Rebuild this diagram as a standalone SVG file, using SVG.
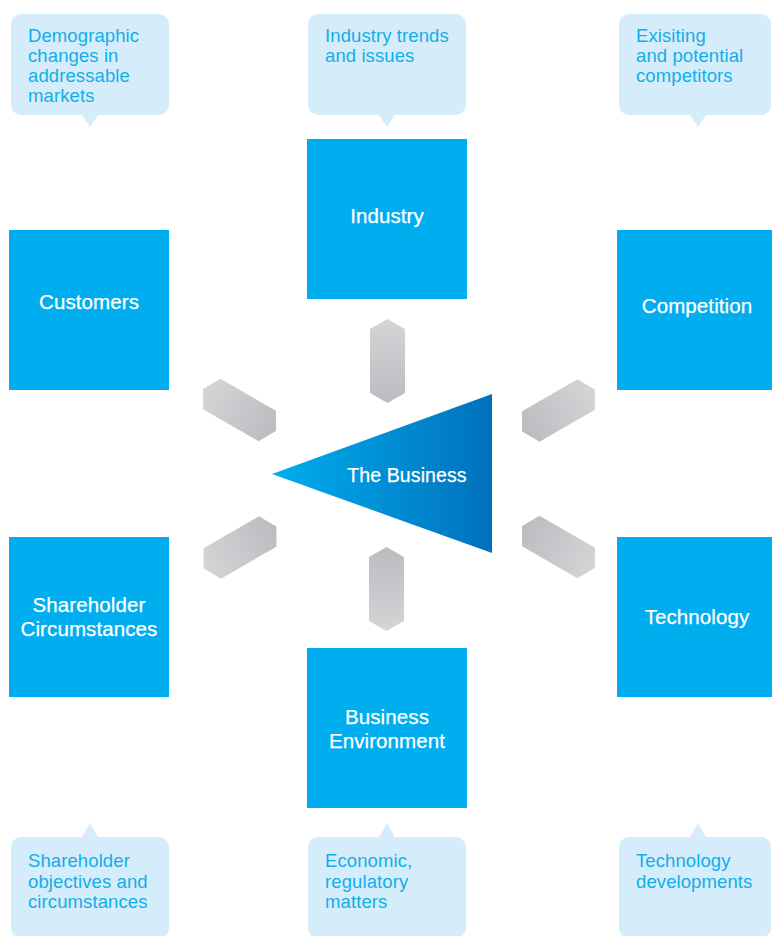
<svg xmlns="http://www.w3.org/2000/svg" width="772" height="936" viewBox="0 0 772 936">
  <style>
    .box { fill: #00AEEF; }
    .boxText { font-family: "Liberation Sans", Arial, sans-serif; font-size: 20.5px; letter-spacing: 0.1px; fill: #FFFFFF; stroke: #FFFFFF; stroke-width: 0.25; text-anchor: middle; }
    .callout { fill: #D5EDFA; }
    .calloutText { font-family: "Liberation Sans", Arial, sans-serif; font-size: 18.5px; letter-spacing: 0.1px; fill: #12ADEA; }
    .link { fill: url(#linkGrad); }
  </style>
  <defs>
    <linearGradient id="bizGrad" x1="0" y1="0" x2="1" y2="0">
      <stop offset="0" stop-color="#00AEEF"/>
      <stop offset="1" stop-color="#0071BC"/>
    </linearGradient>
    <!-- lighter at the outer end, darker toward the centre -->
    <linearGradient id="linkGrad" gradientUnits="userSpaceOnUse" x1="0" y1="-42" x2="0" y2="42">
      <stop offset="0" stop-color="#D4D5D7"/>
      <stop offset="1" stop-color="#BBBCBF"/>
    </linearGradient>
    <polygon id="hex" points="0,-42 17.5,-32 17.5,32 0,42 -17.5,32 -17.5,-32"/>
  </defs>

  <!-- callouts -->
  <g id="callout-customers">
    <path class="callout" d="M21,14 H159 A10,10 0 0 1 169,24 V105 A10,10 0 0 1 159,115 H98 L90,127 L82,115 H21 A10,10 0 0 1 11,105 V24 A10,10 0 0 1 21,14 Z"/>
    <text class="calloutText" x="28" y="42">Demographic</text>
    <text class="calloutText" x="28" y="62">changes in</text>
    <text class="calloutText" x="28" y="82">addressable</text>
    <text class="calloutText" x="28" y="102">markets</text>
  </g>
  <g id="callout-industry">
    <path class="callout" d="M318,14 H456 A10,10 0 0 1 466,24 V105 A10,10 0 0 1 456,115 H395 L387,127 L379,115 H318 A10,10 0 0 1 308,105 V24 A10,10 0 0 1 318,14 Z"/>
    <text class="calloutText" x="325" y="42">Industry trends</text>
    <text class="calloutText" x="325" y="62">and issues</text>
  </g>
  <g id="callout-competition">
    <path class="callout" d="M629,14 H761 A10,10 0 0 1 771,24 V105 A10,10 0 0 1 761,115 H706 L698,127 L690,115 H629 A10,10 0 0 1 619,105 V24 A10,10 0 0 1 629,14 Z"/>
    <text class="calloutText" x="636" y="42">Exisiting</text>
    <text class="calloutText" x="636" y="62">and potential</text>
    <text class="calloutText" x="636" y="82">competitors</text>
  </g>
  <g id="callout-shareholder">
    <path class="callout" d="M21,837 H82 L90,823 L98,837 H159 A10,10 0 0 1 169,847 V928 A10,10 0 0 1 159,938 H21 A10,10 0 0 1 11,928 V847 A10,10 0 0 1 21,837 Z"/>
    <text class="calloutText" x="28" y="867">Shareholder</text>
    <text class="calloutText" x="28" y="888">objectives and</text>
    <text class="calloutText" x="28" y="908">circumstances</text>
  </g>
  <g id="callout-environment">
    <path class="callout" d="M318,837 H379 L387,823 L395,837 H456 A10,10 0 0 1 466,847 V928 A10,10 0 0 1 456,938 H318 A10,10 0 0 1 308,928 V847 A10,10 0 0 1 318,837 Z"/>
    <text class="calloutText" x="325" y="867">Economic,</text>
    <text class="calloutText" x="325" y="888">regulatory</text>
    <text class="calloutText" x="325" y="908">matters</text>
  </g>
  <g id="callout-technology">
    <path class="callout" d="M629,837 H690 L698,823 L706,837 H761 A10,10 0 0 1 771,847 V928 A10,10 0 0 1 761,938 H629 A10,10 0 0 1 619,928 V847 A10,10 0 0 1 629,837 Z"/>
    <text class="calloutText" x="636" y="867">Technology</text>
    <text class="calloutText" x="636" y="888">developments</text>
  </g>

  <!-- connectors: hexagonal links between the business and each factor -->
  <g id="connectors">
    <use href="#hex" class="link" transform="translate(387.5,361)"/>
    <use href="#hex" class="link" transform="translate(386.5,589) rotate(180)"/>
    <use href="#hex" class="link" transform="translate(239.5,410) rotate(-60)"/>
    <use href="#hex" class="link" transform="translate(240,547.5) rotate(-120)"/>
    <use href="#hex" class="link" transform="translate(558.5,410.5) rotate(60)"/>
    <use href="#hex" class="link" transform="translate(558.5,547) rotate(120)"/>
  </g>

  <!-- factor boxes -->
  <g id="industry">
    <rect class="box" x="307" y="139" width="160" height="160"/>
    <text class="boxText" x="387" y="223">Industry</text>
  </g>
  <g id="customers">
    <rect class="box" x="9" y="230" width="160" height="160"/>
    <text class="boxText" x="89" y="309">Customers</text>
  </g>
  <g id="competition">
    <rect class="box" x="617" y="230" width="155" height="160"/>
    <text class="boxText" x="697" y="313">Competition</text>
  </g>
  <g id="shareholder">
    <rect class="box" x="9" y="537" width="160" height="160"/>
    <text class="boxText" x="89" y="612">Shareholder</text>
    <text class="boxText" x="89" y="636">Circumstances</text>
  </g>
  <g id="technology">
    <rect class="box" x="617" y="537" width="155" height="160"/>
    <text class="boxText" x="697" y="624">Technology</text>
  </g>
  <g id="environment">
    <rect class="box" x="307" y="648" width="160" height="160"/>
    <text class="boxText" x="387" y="724">Business</text>
    <text class="boxText" x="387" y="748">Environment</text>
  </g>

  <!-- centre -->
  <g id="business">
    <polygon points="272,474 492,394 492,553" fill="url(#bizGrad)"/>
    <text class="boxText" x="407" y="482" style="font-size:19.5px">The Business</text>
  </g>
</svg>
